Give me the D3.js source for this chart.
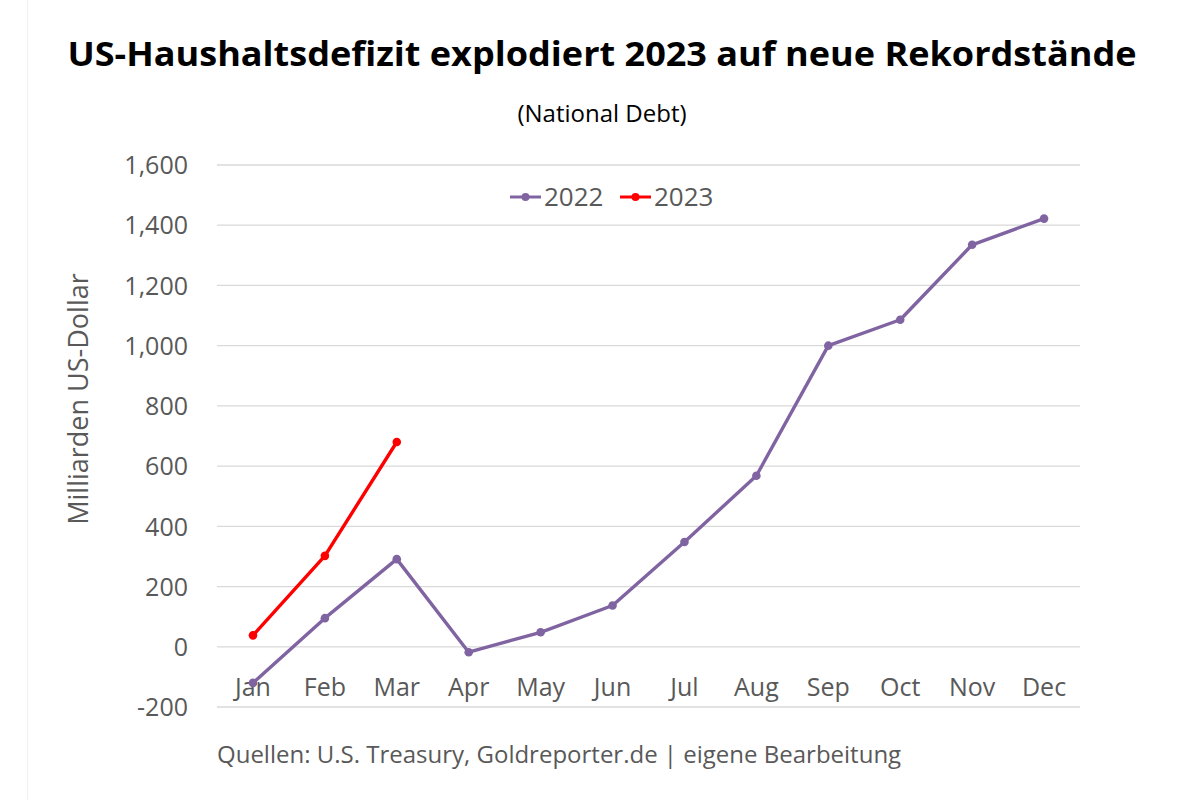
<!DOCTYPE html>
<html><head><meta charset="utf-8">
<script src="https://cdn.jsdelivr.net/npm/d3@7"></script>
<style>
html,body{margin:0;padding:0;background:#fff;}
svg{display:block;}
text{font-family:"Open Sans","Noto Sans",sans-serif;}
</style></head>
<body>
<svg id="chart" width="1200" height="800"></svg>
<script>
const months = ["Jan","Feb","Mar","Apr","May","Jun","Jul","Aug","Sep","Oct","Nov","Dec"];
const values2022 = [-120, 95, 291, -18, 48, 137, 348, 568, 1000, 1086, 1335, 1422];
const values2023 = [38, 302, 680];
const yTicks = [-200, 0, 200, 400, 600, 800, 1000, 1200, 1400, 1600];
const seriesNames = ["2022", "2023"];
const seriesColors = ["#8064A2", "#FF0000"];

const svg = d3.select("#chart");
svg.append("rect").attr("x",0).attr("y",0).attr("width",1200).attr("height",800).attr("fill","#fff");
svg.append("line").attr("x1",27.5).attr("x2",27.5).attr("y1",0).attr("y2",800).attr("stroke","#f0f0f0");

const x = d3.scaleBand().domain(months).range([217, 1080]);
const y = d3.scaleLinear().domain([-200, 1600]).range([707, 165]);

// gridlines
svg.append("g").selectAll("line").data(yTicks).join("line")
  .attr("x1", 217).attr("x2", 1080)
  .attr("y1", d => y(d)).attr("y2", d => y(d))
  .attr("stroke", "#d9d9d9").attr("stroke-width", 1.3);

// y axis
const fmt = d3.format(",");
const yAxis = d3.axisLeft(y).tickValues(yTicks).tickSize(0).tickPadding(0)
  .tickFormat(d => fmt(d).replace("\u2212", "-"));
const gy = svg.append("g").attr("transform","translate(188,0)").call(yAxis);
gy.select(".domain").remove();
gy.selectAll("text").attr("font-size", 25).attr("fill", "#595959")
  .attr("font-family", '"Open Sans",sans-serif').attr("dy","0.35em");

// x axis labels
const xAxis = d3.axisBottom(x).tickSize(0).tickPadding(0);
const gx = svg.append("g").attr("transform","translate(0,673)").call(xAxis);
gx.select(".domain").remove();
gx.selectAll("text").attr("font-size", 25).attr("fill", "#595959")
  .attr("font-family", '"Open Sans",sans-serif').attr("dy","0.9em");

const line = d3.line().x(d => x(d.m) + x.bandwidth()/2).y(d => y(d.v));
const data = [
  values2022.map((v,i)=>({m:months[i], v})),
  values2023.map((v,i)=>({m:months[i], v}))
];
data.forEach((ser, si) => {
  svg.append("path").datum(ser).attr("d", line).attr("fill","none")
    .attr("stroke", seriesColors[si]).attr("stroke-width", 3.4).attr("stroke-linejoin","round");
  svg.append("g").selectAll("circle").data(ser).join("circle")
    .attr("cx", d => x(d.m) + x.bandwidth()/2).attr("cy", d => y(d.v)).attr("r", 4.3)
    .attr("fill", seriesColors[si]);
});

// legend
const legendX = [510, 620];
seriesNames.forEach((n, i) => {
  const g = svg.append("g").attr("transform", `translate(${legendX[i]},197)`);
  g.append("line").attr("x1",0).attr("x2",31).attr("y1",0).attr("y2",0)
    .attr("stroke", seriesColors[i]).attr("stroke-width",3);
  g.append("circle").attr("cx",15.5).attr("cy",0).attr("r",4).attr("fill",seriesColors[i]);
  g.append("text").attr("x",34).attr("y",0).attr("dy","0.35em").attr("font-size",26)
    .attr("fill","#595959").text(n);
});

// titles
svg.append("text").attr("x", 602).attr("y", 66).attr("text-anchor","middle")
  .attr("font-size", 34).attr("font-weight","bold").attr("fill","#000")
  .attr("textLength", 1069).attr("lengthAdjust","spacingAndGlyphs")
  .text("US-Haushaltsdefizit explodiert 2023 auf neue Rekordstände");
svg.append("text").attr("x", 602).attr("y", 122).attr("text-anchor","middle")
  .attr("font-size", 24).attr("fill","#000")
  .text("(National Debt)");

// y axis title
svg.append("text").attr("transform","translate(88,399) rotate(-90)").attr("text-anchor","middle")
  .attr("font-size", 27).attr("fill","#595959").text("Milliarden US-Dollar");

// source
svg.append("text").attr("x", 217).attr("y", 763).attr("font-size", 24).attr("fill","#595959")
  .text("Quellen: U.S. Treasury, Goldreporter.de | eigene Bearbeitung");
</script>
</body></html>
